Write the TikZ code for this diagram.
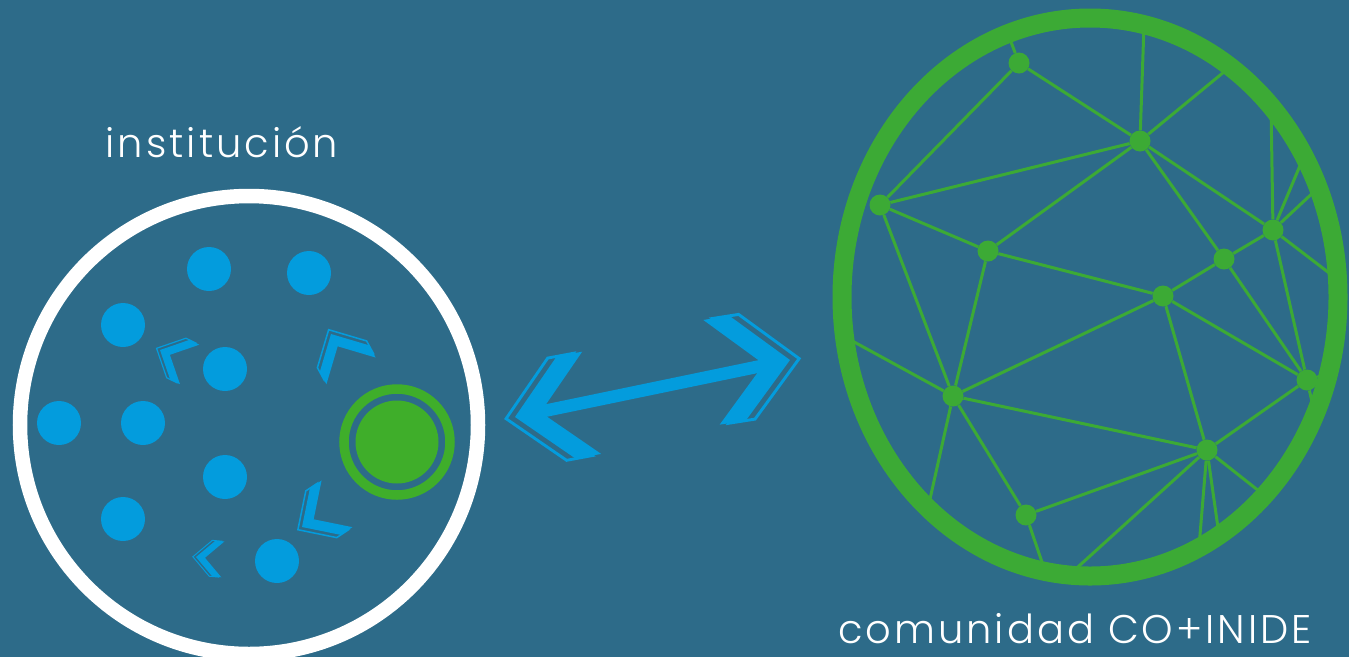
\documentclass[tikz,border=0pt]{standalone}
\usepackage{fontspec}
\newfontfamily\labfont[LetterSpace=7.5]{Poppins Light}
\definecolor{bgblue}{HTML}{2D6B89}
\definecolor{dotblue}{HTML}{039CDD}
\definecolor{leafgreen}{HTML}{3FAE2A}
\definecolor{netgreen}{HTML}{3CAA35}
% chevron: tip, rotation, size
\newcommand{\chev}[3]{%
  \begin{scope}[shift={(#1)}, rotate=#2, scale=#3]
    \draw[dotblue, line width=1.1*#3pt] (-3.5,0) -- (16.5,-20) -- (26.5,-20) -- (6.5,0) -- (26.5,20) -- (16.5,20) -- cycle;
    \fill[dotblue] (0,0) -- (20,-20) -- (30,-20) -- (10,0) -- (30,20) -- (20,20) -- cycle;
  \end{scope}}

\begin{document}
\begin{tikzpicture}[x=1pt, y=-1pt,
    hub/.style = {circle, fill=netgreen, inner sep=0pt, minimum size=21pt},
    dot/.style = {circle, fill=dotblue, inner sep=0pt, minimum size=44pt},
    link/.style = {netgreen, line width=3pt},
    txt/.style = {text=white, anchor=base, font=\labfont\fontsize{40}{48}\selectfont}]
  \useasboundingbox (0,0) rectangle (1349,657);
  \fill[bgblue] (0,0) rectangle (1349,657);

  % left: the institution
  \node[txt] (inst) at (222,157) {institución};
  \draw[white, line width=14.5pt] (249,425) circle [radius=229];
  \node[dot] (d1) at (209,269) {};
  \node[dot] (d2) at (309,273) {};
  \node[dot] (d3) at (123,325) {};
  \node[dot] (d4) at (225,369) {};
  \node[dot] (d5) at (59,423) {};
  \node[dot] (d6) at (143,423) {};
  \node[dot] (d7) at (225,477) {};
  \node[dot] (d8) at (123,519) {};
  \node[dot] (d9) at (277,561) {};
  \draw[leafgreen, line width=9.5pt] (397,442) circle [radius=53];
  \fill[leafgreen] (397,442) circle [radius=41.5];
  \chev{160,350}{-26}{1.1}
  \chev{331,334}{-61.5}{1.4}
  \chev{302,527}{33.5}{1.4}
  \chev{196,557}{-5}{0.9}

  % middle: double arrow
  \coordinate (tipL) at (515,417);
  \coordinate (tipR) at (790,360);
  \draw[dotblue, line width=12.5pt, shorten <=25pt, shorten >=25pt] (tipL) -- (tipR);
  \chev{tipL}{10.5}{2.6}
  \chev{tipR}{-171.1}{2.65}

  % right: the community network
  \node[txt] (comm) at (1075,643) {comunidad CO+INIDE};
  \node[hub] (1) at (1019,63) {};
  \node[hub] (2) at (1140,141) {};
  \node[hub] (3) at (880,205) {};
  \node[hub] (4) at (988,251) {};
  \node[hub] (5) at (1273,230) {};
  \node[hub] (6) at (1224,259) {};
  \node[hub] (7) at (1163,296) {};
  \node[hub] (8) at (1307,380) {};
  \node[hub] (9) at (953,396) {};
  \node[hub] (10) at (1207,450) {};
  \node[hub] (11) at (1026,515) {};
  \coordinate (r1) at (1008,34);
  \coordinate (r2) at (1144,25);
  \coordinate (r3) at (1230,67);
  \coordinate (r4) at (1271,106);
  \coordinate (r5) at (1304,156);
  \coordinate (r6) at (1318,188);
  \coordinate (r7) at (1337,279);
  \coordinate (r8) at (1328,374);
  \coordinate (r9) at (1315,415);
  \coordinate (r10) at (1264,495);
  \coordinate (r11) at (1219,535);
  \coordinate (r12) at (1199,547);
  \coordinate (r13) at (1069,575);
  \coordinate (r14) at (1045,571);
  \coordinate (r15) at (928,508);
  \coordinate (r16) at (845,337);
  \draw[link] (1) -- (3);
  \draw[link] (1) -- (2);
  \draw[link] (2) -- (3);
  \draw[link] (2) -- (4);
  \draw[link] (2) -- (5);
  \draw[link] (2) -- (6);
  \draw[link] (3) -- (4);
  \draw[link] (3) -- (9);
  \draw[link] (4) -- (7);
  \draw[link] (4) -- (9);
  \draw[link] (5) -- (6);
  \draw[link] (5) -- (8);
  \draw[link] (6) -- (7);
  \draw[link] (6) -- (8);
  \draw[link] (7) -- (9);
  \draw[link] (7) -- (8);
  \draw[link] (7) -- (10);
  \draw[link] (8) -- (10);
  \draw[link] (9) -- (10);
  \draw[link] (9) -- (11);
  \draw[link] (10) -- (11);
  \draw[link] (1) -- (r1);
  \draw[link] (2) -- (r2);
  \draw[link] (2) -- (r3);
  \draw[link] (5) -- (r4);
  \draw[link] (5) -- (r5);
  \draw[link] (5) -- (r6);
  \draw[link] (5) -- (r7);
  \draw[link] (8) -- (r8);
  \draw[link] (8) -- (r9);
  \draw[link] (10) -- (r10);
  \draw[link] (10) -- (r11);
  \draw[link] (10) -- (r12);
  \draw[link] (10) -- (r13);
  \draw[link] (11) -- (r14);
  \draw[link] (9) -- (r15);
  \draw[link] (9) -- (r16);
  \draw[netgreen, line width=19pt] (1090,297) ellipse [x radius=248, y radius=279];
\end{tikzpicture}
\end{document}
